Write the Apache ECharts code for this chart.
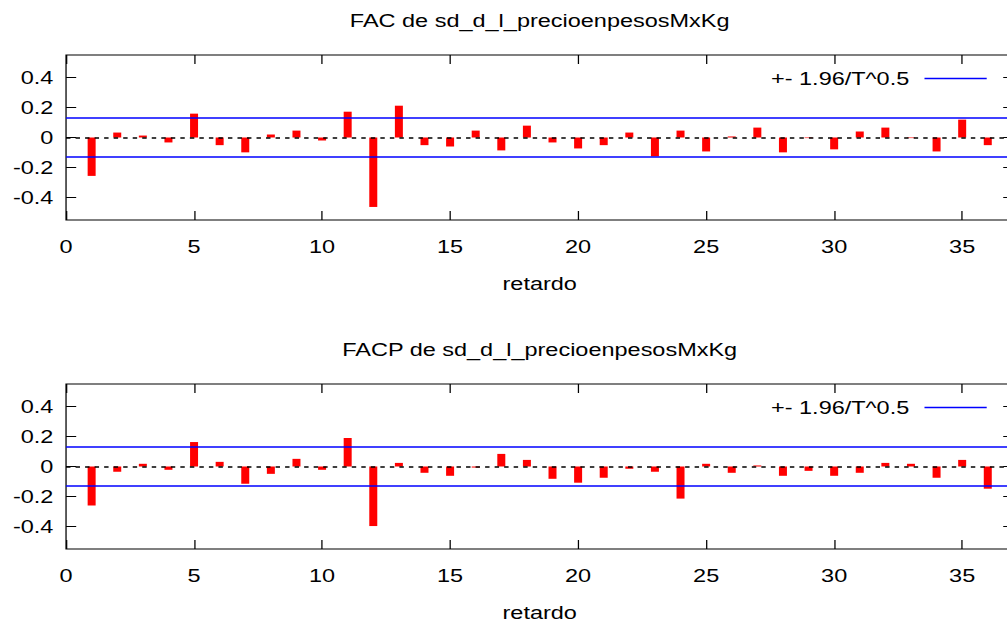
<!DOCTYPE html>
<html>
<head>
<meta charset="utf-8">
<script src="https://cdn.jsdelivr.net/npm/echarts@6/dist/echarts.min.js"></script>
<style>
  html, body { margin: 0; padding: 0; background: #fff; overflow: hidden; }
  #wrap { width: 1007px; height: 622px; overflow: hidden; }
  /* the plot is laid out on a narrower canvas and widened, like the wide glyphs of the original output */
  #chart { width: 793px; height: 622px; transform: scaleX(1.2699); transform-origin: 0 0; }
</style>
</head>
<body>
<div id="wrap"><div id="chart"></div></div>
<script>
// Lags of the correlogram
const lags = [1,2,3,4,5,6,7,8,9,10,11,12,13,14,15,16,17,18,19,20,21,22,23,24,25,26,27,28,29,30,31,32,33,34,35,36];

// Autocorrelation function (FAC)
const facValues = [-0.256, 0.033, 0.013, -0.033, 0.159, -0.051, -0.099, 0.020, 0.046, -0.020, 0.172, -0.463,
                   0.212, -0.051, -0.060, 0.046, -0.086, 0.079, -0.033, -0.073, -0.051, 0.033, -0.126, 0.046,
                   -0.093, 0.007, 0.066, -0.099, -0.004, -0.079, 0.040, 0.066, -0.004, -0.093, 0.119, -0.051];

// Partial autocorrelation function (FACP)
const facpValues = [-0.260, -0.035, 0.018, -0.022, 0.163, 0.031, -0.115, -0.049, 0.051, -0.022, 0.190, -0.397,
                    0.024, -0.042, -0.062, -0.007, 0.084, 0.044, -0.082, -0.108, -0.075, -0.015, -0.035, -0.214,
                    0.018, -0.042, 0.007, -0.062, -0.029, -0.062, -0.042, 0.024, 0.018, -0.075, 0.044, -0.148];

// Confidence band +- 1.96/sqrt(T)
const band = 0.126;

const titles = ['FAC de sd_d_l_precioenpesosMxKg', 'FACP de sd_d_l_precioenpesosMxKg'];
const xLabel = 'retardo';
const bandName = '+- 1.96/T^0.5';

const xTicks = [0, 5, 10, 15, 20, 25, 30, 35];
const yTicks = [-0.4, -0.2, 0, 0.2, 0.4];
const xMin = 0, xMax = 37;
const yMin = -0.55, yMax = 0.55;

const FONT = "'Liberation Sans', Arial, sans-serif";
const FS = 18.5;

const GRID_LEFT = 52, GRID_W = 746, PANEL_H = 165, CENTER_X = 425;

const panels = [
  { values: facValues, top: 55, titleTop: 11, nameTop: 274, legendTop: 69 },
  { values: facpValues, top: 384, titleTop: 340, nameTop: 603, legendTop: 398 }
];

const grid = [], xAxis = [], yAxis = [], series = [], title = [], legend = [];

const tickStyle = { color: '#000', width: 1 };

panels.forEach((p, i) => {
  grid.push({
    left: GRID_LEFT, top: p.top, width: GRID_W, height: PANEL_H,
    outerBoundsMode: 'none', containLabel: false,
    show: true, borderColor: '#000', borderWidth: 1, backgroundColor: 'transparent'
  });
  // bottom x axis with labels
  xAxis.push({
    type: 'value', gridIndex: i, position: 'bottom', min: xMin, max: xMax,
    axisLine: { show: false, onZero: false },
    splitLine: { show: false },
    axisTick: { show: true, inside: true, length: 9, customValues: xTicks, lineStyle: tickStyle },
    axisLabel: { show: true, customValues: xTicks, margin: 17, color: '#000', fontFamily: FONT, fontSize: FS }
  });
  // top mirror ticks
  xAxis.push({
    type: 'value', gridIndex: i, position: 'top', min: xMin, max: xMax,
    axisLine: { show: false, onZero: false },
    splitLine: { show: false },
    axisTick: { show: true, inside: true, length: 9, customValues: xTicks, lineStyle: tickStyle },
    axisLabel: { show: false }
  });
  // left y axis with labels
  yAxis.push({
    type: 'value', gridIndex: i, position: 'left', min: yMin, max: yMax,
    axisLine: { show: false, onZero: false },
    splitLine: { show: false },
    axisTick: { show: true, inside: true, length: 8, customValues: yTicks, lineStyle: tickStyle },
    axisLabel: {
      show: true, customValues: yTicks, margin: 10, color: '#000', fontFamily: FONT, fontSize: FS,
      formatter: v => String(Math.round(v * 10) / 10)
    }
  });
  // right mirror ticks
  yAxis.push({
    type: 'value', gridIndex: i, position: 'right', min: yMin, max: yMax,
    axisLine: { show: false, onZero: false },
    splitLine: { show: false },
    axisTick: { show: true, inside: true, length: 8, customValues: yTicks, lineStyle: tickStyle },
    axisLabel: { show: false }
  });

  // correlation bars with dashed zero line
  series.push({
    type: 'bar', name: titles[i], xAxisIndex: i * 2, yAxisIndex: i * 2,
    data: lags.map((l, k) => [l, p.values[k]]),
    barWidth: 6.3,
    itemStyle: { color: '#ff0000' },
    silent: true,
    markLine: {
      silent: true, symbol: 'none', label: { show: false },
      lineStyle: { color: '#000', type: [3.5, 4], width: 1.5 },
      data: [{ yAxis: 0 }]
    },
    z: 3
  });
  // confidence band lines
  series.push({
    type: 'line', name: bandName, xAxisIndex: i * 2, yAxisIndex: i * 2,
    data: [],
    color: '#0000ff',
    lineStyle: { color: '#0000ff', width: 1.5 },
    markLine: {
      silent: true, symbol: 'none', label: { show: false },
      lineStyle: { color: '#0000ff', type: 'solid', width: 1.5 },
      data: [{ yAxis: band }, { yAxis: -band }]
    },
    z: 4
  });

  title.push({
    text: titles[i], left: CENTER_X, textAlign: 'center', top: p.titleTop, padding: 0,
    textStyle: { fontFamily: FONT, fontSize: FS, fontWeight: 'normal', color: '#000' }
  });
  title.push({
    text: xLabel, left: CENTER_X, textAlign: 'center', top: p.nameTop, padding: 0,
    textStyle: { fontFamily: FONT, fontSize: FS, fontWeight: 'normal', color: '#000' }
  });
  legend.push({
    data: [bandName], right: 16, top: p.legendTop, align: 'right', padding: 0,
    itemWidth: 49, itemHeight: 1.5, icon: 'rect', selectedMode: false,
    textStyle: { fontFamily: FONT, fontSize: FS, color: '#000', padding: [0, 7, 0, 0] }
  });
});

const chart = echarts.init(document.getElementById('chart'), null, { renderer: 'svg' });
chart.setOption({
  animation: false,
  backgroundColor: '#fff',
  title, legend, grid, xAxis, yAxis, series
});
</script>
</body>
</html>
